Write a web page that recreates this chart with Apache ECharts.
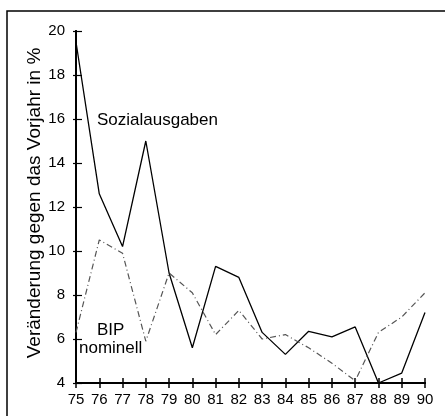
<!DOCTYPE html>
<html>
<head>
<meta charset="utf-8">
<script src="https://cdn.jsdelivr.net/npm/echarts@6/dist/echarts.min.js"></script>
<style>
  html, body { margin: 0; padding: 0; background: #fff; }
  #chart { width: 445px; height: 416px; }
</style>
</head>
<body>
<div id="chart"></div>
<script>
var years = ['75', '76', '77', '78', '79', '80', '81', '82', '83', '84', '85', '86', '87', '88', '89', '90']
var sozialausgaben = [19.5, 12.6, 10.2, 15.0, 9.0, 5.6, 9.3, 8.8, 6.3, 5.3, 6.35, 6.1, 6.55, 4.0, 4.45, 7.2]
var bipNominell = [6.3, 10.5, 9.9, 5.9, 9.0, 8.1, 6.2, 7.3, 6.0, 6.2, 5.6, 4.9, 4.1, 6.3, 7.0, 8.1]
var yTitle = 'Veränderung gegen das Vorjahr in %'

var font = 'Liberation Sans'
var myChart = echarts.init(document.getElementById('chart'), null, { renderer: 'canvas' })

var baseX = {
  type: 'category',
  data: years,
  boundaryGap: false,
  position: 'bottom',
  axisLine: { show: true, lineStyle: { color: '#000', width: 2 } },
  splitLine: { show: false }
}
var baseY = {
  type: 'value',
  min: 4,
  max: 20,
  interval: 2,
  position: 'left',
  splitLine: { show: false },
  axisLine: { show: true, lineStyle: { color: '#000', width: 2 } }
}

var option = {
  animation: false,
  backgroundColor: '#fff',
  grid: { left: 76, right: 20, top: 31, bottom: 33, containLabel: false },
  xAxis: [
    Object.assign({}, baseX, {
      axisTick: { show: true, inside: false, length: 5, lineStyle: { color: '#000', width: 1.5 } },
      axisLabel: { color: '#000', fontFamily: font, fontSize: 15, margin: 9 }
    }),
    Object.assign({}, baseX, {
      axisTick: { show: true, inside: true, length: 5, lineStyle: { color: '#000', width: 1.5 } },
      axisLabel: { show: false }
    })
  ],
  yAxis: [
    Object.assign({}, baseY, {
      axisTick: { show: true, inside: false, length: 3, lineStyle: { color: '#000', width: 1.2 } },
      axisLabel: { color: '#000', fontFamily: font, fontSize: 15, margin: 11 }
    }),
    Object.assign({}, baseY, {
      axisTick: { show: true, inside: true, length: 6, lineStyle: { color: '#000', width: 1.2 } },
      axisLabel: { show: false }
    })
  ],
  series: [
    {
      name: 'Sozialausgaben',
      type: 'line',
      data: sozialausgaben,
      symbol: 'none',
      lineStyle: { color: '#000', width: 1.3 }
    },
    {
      name: 'BIP nominell',
      type: 'line',
      data: bipNominell,
      symbol: 'none',
      lineStyle: { color: '#555', width: 1.2, type: [6, 3, 1, 3] }
    }
  ],
  graphic: [
    {
      type: 'rect',
      shape: { x: 7, y: 11, width: 445, height: 420 },
      style: { fill: 'none', stroke: '#000', lineWidth: 1.5 },
      silent: true
    },
    {
      // y axis title, drawn by hand so it can sit where the original puts it
      type: 'text',
      x: 35,
      y: 203,
      rotation: Math.PI / 2,
      style: {
        text: yTitle,
        fontFamily: font,
        fontSize: 19,
        fill: '#000',
        textAlign: 'center',
        textVerticalAlign: 'middle'
      }
    },
    {
      type: 'text',
      left: 97,
      top: 112,
      style: { text: 'Sozialausgaben', fontFamily: font, fontSize: 17, fill: '#000' }
    },
    {
      type: 'text',
      left: 97,
      top: 322,
      style: { text: 'BIP', fontFamily: font, fontSize: 17, fill: '#000' }
    },
    {
      type: 'text',
      left: 79,
      top: 340,
      style: { text: 'nominell', fontFamily: font, fontSize: 17, fill: '#000' }
    }
  ]
}

option && myChart.setOption(option)
</script>
</body>
</html>
